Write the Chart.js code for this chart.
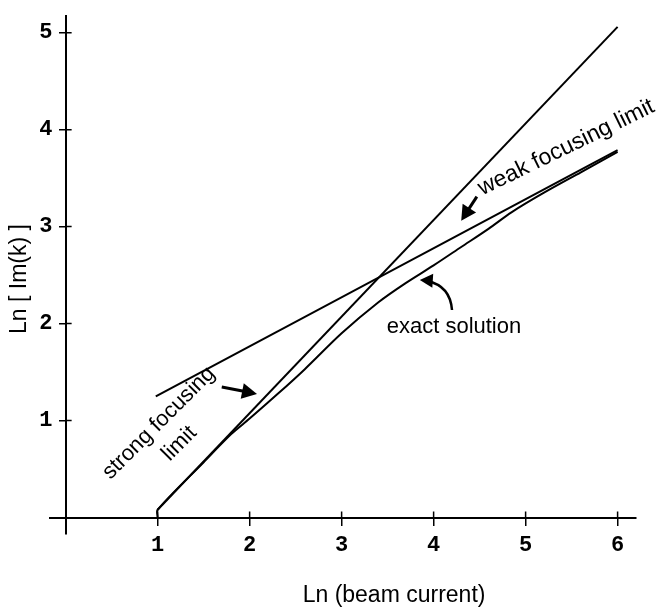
<!DOCTYPE html>
<html lang="en">
<head>
<meta charset="UTF-8">
<title>Ln Im(k) vs Ln beam current</title>
<script src="https://cdn.jsdelivr.net/npm/chart.js"></script>
<style>
  body { margin: 0; background: #fff; }
  #wrap { width: 656px; height: 612px; }
</style>
</head>
<body>
<div id="wrap"><canvas id="chart" width="656" height="612"></canvas></div>
<script>
// values (natural logs)
const xTicks = [1, 2, 3, 4, 5, 6];
const yTicks = [1, 2, 3, 4, 5];

const strongX = [1.0, 6.0];
const strongY = [0.08, 5.06];

const weakX = [0.98, 6.0];
const weakY = [1.25, 3.79];

const exactX = [1.0, 1.0, 1.5, 1.8, 2.0, 2.3, 2.6, 3.0, 3.4, 3.7, 4.0, 4.3, 4.6, 4.85, 5.2, 5.6, 6.0];
const exactY = [0.0, 0.08, 0.57, 0.86, 1.02, 1.27, 1.53, 1.90, 2.22, 2.42, 2.60, 2.79, 2.98, 3.15, 3.35, 3.56, 3.77];

function pts(xs, ys) {
    return xs.map((x, i) => ({ x: x, y: ys[i] }));
}

const tickFont = { family: "'Liberation Mono', monospace", size: 22, weight: 'bold' };
const textFont = "22px 'Liberation Sans', Arial, sans-serif";

function arrowHead(ctx, fx, fy, tx, ty, len, half) {
    const a = Math.atan2(ty - fy, tx - fx);
    const bx = tx - len * Math.cos(a), by = ty - len * Math.sin(a);
    ctx.beginPath();
    ctx.moveTo(tx, ty);
    ctx.lineTo(bx + half * Math.sin(a), by - half * Math.cos(a));
    ctx.lineTo(bx - half * Math.sin(a), by + half * Math.cos(a));
    ctx.closePath();
    ctx.fill();
}

// labels, arrows and the inner half of the tick crosses
const sketch = {
    id: 'sketch',
    afterDraw(chart) {
        const ctx = chart.ctx;
        const px = v => chart.scales.x.getPixelForValue(v);
        const py = v => chart.scales.y.getPixelForValue(v);
        ctx.save();
        ctx.strokeStyle = '#000';
        ctx.fillStyle = '#000';

        ctx.lineWidth = 1.5;
        ctx.beginPath();
        xTicks.forEach(v => { ctx.moveTo(px(v), py(0)); ctx.lineTo(px(v), py(0) - 6); });
        yTicks.forEach(v => { ctx.moveTo(px(0), py(v)); ctx.lineTo(px(0) + 6, py(v)); });
        ctx.stroke();

        // axis titles
        ctx.font = "23px 'Liberation Sans', Arial, sans-serif";
        ctx.textAlign = 'center';
        ctx.textBaseline = 'middle';
        ctx.fillText('Ln (beam current)', px(3.57), py(-0.81));
        ctx.save();
        ctx.translate(px(-0.5), py(2.46));
        ctx.rotate(-Math.PI / 2);
        ctx.fillText('Ln [ Im(k) ]', 0, 0);
        ctx.restore();

        // exact solution
        ctx.font = textFont;
        ctx.textAlign = 'left';
        ctx.fillText('exact solution', px(3.49), py(1.97));
        ctx.lineWidth = 2.5;
        ctx.beginPath();
        ctx.moveTo(px(4.2), py(2.14));
        ctx.quadraticCurveTo(px(4.18), py(2.39), px(3.93), py(2.44));
        ctx.stroke();
        arrowHead(ctx, px(4.18), py(2.43), px(3.85), py(2.45), 13, 7);

        // weak focusing limit
        ctx.save();
        ctx.translate(px(4.53), py(3.32));
        ctx.rotate(-26 * Math.PI / 180);
        ctx.font = "23px 'Liberation Sans', Arial, sans-serif";
        ctx.textBaseline = 'alphabetic';
        ctx.fillText('weak focusing limit', 0, 0);
        ctx.restore();
        ctx.lineWidth = 3;
        ctx.beginPath();
        ctx.moveTo(px(4.47), py(3.31));
        ctx.lineTo(px(4.36), py(3.15));
        ctx.stroke();
        arrowHead(ctx, px(4.47), py(3.31), px(4.30), py(3.06), 15, 8);

        // strong focusing limit
        ctx.save();
        ctx.translate(px(1.06), py(0.93));
        ctx.rotate(-45 * Math.PI / 180);
        ctx.textAlign = 'center';
        ctx.textBaseline = 'alphabetic';
        ctx.fillText('strong focusing', 0, 0);
        ctx.fillText('limit', 0, 29);
        ctx.restore();
        ctx.beginPath();
        ctx.moveTo(px(1.697), py(1.346));
        ctx.lineTo(px(1.95), py(1.30));
        ctx.stroke();
        arrowHead(ctx, px(1.697), py(1.346), px(2.08), py(1.275), 15, 8);

        ctx.restore();
    }
};

const line = { borderColor: '#000', borderWidth: 2, pointRadius: 0, showLine: true, fill: false };

new Chart(document.getElementById('chart'), {
    type: 'scatter',
    data: {
        datasets: [
            Object.assign({ label: 'strong focusing limit', data: pts(strongX, strongY), tension: 0 }, line),
            Object.assign({ label: 'weak focusing limit', data: pts(weakX, weakY), tension: 0 }, line),
            Object.assign({ label: 'exact solution', data: pts(exactX, exactY), tension: 0.3 }, line)
        ]
    },
    options: {
        responsive: false,
        animation: false,
        layout: { padding: { left: 50, right: 20, top: 7, bottom: 78 } },
        plugins: { legend: { display: false }, tooltip: { enabled: false } },
        scales: {
            x: {
                type: 'linear', min: -0.17, max: 6.2, position: { y: 0 },
                afterBuildTicks: s => { s.ticks = xTicks.map(v => ({ value: v })); },
                border: { display: true, color: '#000', width: 2 },
                grid: { drawOnChartArea: false, drawTicks: true, tickLength: 7, color: '#000', lineWidth: 1.5 },
                ticks: { color: '#000', font: tickFont, padding: 8, maxRotation: 0, autoSkip: false }
            },
            y: {
                type: 'linear', min: -0.17, max: 5.17, position: { x: 0 },
                afterBuildTicks: s => { s.ticks = yTicks.map(v => ({ value: v })); },
                border: { display: true, color: '#000', width: 2 },
                grid: { drawOnChartArea: false, drawTicks: true, tickLength: 6, color: '#000', lineWidth: 1.5 },
                // labels sit right-aligned on the axis line here, so a trailing space keeps them clear of it
                ticks: { color: '#000', font: tickFont, autoSkip: false, callback: v => v + ' ' }
            }
        }
    },
    plugins: [sketch]
});
</script>
</body>
</html>
